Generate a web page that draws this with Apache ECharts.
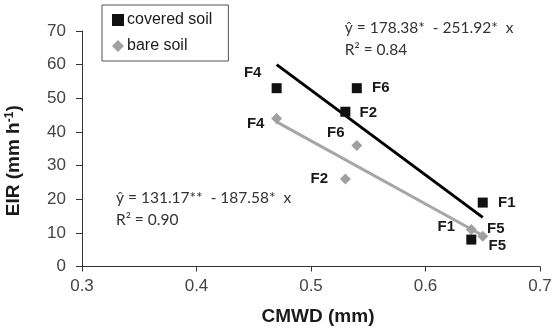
<!DOCTYPE html>
<html>
<head>
<meta charset="utf-8">
<script src="https://cdn.jsdelivr.net/npm/echarts@6/dist/echarts.min.js"></script>
<style>
  html, body { margin: 0; padding: 0; background: #fff; }
  #chart { width: 559px; height: 332px; }
</style>
</head>
<body>
<div id="chart"></div>
<script>
// axis ranges [min, max, step]
var xRange = [0.3, 0.7, 0.1];
var yRange = [0, 70, 10];

// plot names (same order in both series)
var plotNames = ['F1', 'F2', 'F4', 'F5', 'F6'];

// covered soil
var coveredCMWD = [0.65, 0.53, 0.47, 0.64, 0.54];
var coveredEIR = [19, 46, 53, 8, 53];

// bare soil
var bareCMWD = [0.64, 0.53, 0.47, 0.65, 0.54];
var bareEIR = [11, 26, 44, 9, 36];

// fitted lines, end points
var coveredFitX = [0.47, 0.65];
var coveredFitY = [60.0, 14.6];
var bareFitX = [0.47, 0.65];
var bareFitY = [43.0, 9.2];

// equation texts
var coveredEq = 'ŷ = 178.38*  - 251.92*  x\nR² = 0.84';
var bareEq = 'ŷ = 131.17**  - 187.58*  x\nR² = 0.90';

// label offsets (px) for each plot name
var coveredLabelOffset = { F1: [24, 0], F2: [23, 1], F4: [-24, -15], F5: [26, 6], F6: [24, 0] };
var bareLabelOffset = { F1: [-25, -3], F2: [-26, 0], F4: [-21, 5], F5: [13, -7], F6: [-21, -13] };

var labelFont = { fontFamily: 'Liberation Sans', fontWeight: 'bold', fontSize: 15, color: '#1a1a1a' };
var titleFont = { fontFamily: 'Liberation Sans', fontWeight: 'bold', fontSize: 19, color: '#1a1a1a' };

function pointsOf(xs, ys, offsets) {
    return xs.map(function (x, i) {
        var name = plotNames[i];
        return {
            value: [x, ys[i]],
            name: name,
            label: Object.assign({ show: true, position: 'inside', offset: offsets[name], formatter: name }, labelFont)
        };
    });
}

function lineOf(xs, ys) {
    return xs.map(function (x, i) { return [x, ys[i]]; });
}

var myChart = echarts.init(document.getElementById('chart'));

var option = {
    animation: false,
    backgroundColor: '#fff',
    grid: { left: 82, right: 19, top: 31, bottom: 65.5, containLabel: false, outerBoundsMode: 'none' },
    legend: {
        left: 102, top: 5,
        orient: 'vertical',
        data: [{ name: 'covered soil', icon: 'rect' }, { name: 'bare soil', icon: 'diamond' }],
        itemWidth: 12, itemHeight: 12, itemGap: 8,
        padding: [6, 16, 6, 10],
        borderColor: '#555', borderWidth: 1,
        backgroundColor: '#fff',
        textStyle: { fontFamily: 'Liberation Sans', fontSize: 16, color: '#1a1a1a', lineHeight: 18, padding: [0, 0, 0, -2] }
    },
    xAxis: {
        type: 'value',
        min: xRange[0], max: xRange[1], interval: xRange[2],
        name: 'CMWD (mm)', nameLocation: 'middle', nameGap: 41,
        nameTextStyle: Object.assign({ padding: [0, 0, 0, 14] }, titleFont),
        axisLine: { lineStyle: { color: '#333', width: 1 } },
        axisTick: { show: true, length: 5, lineStyle: { color: '#333' } },
        axisLabel: { margin: 11, fontFamily: 'Liberation Sans', fontSize: 17, color: '#444',
            formatter: function (v) { return v.toFixed(1); } },
        splitLine: { show: false }
    },
    yAxis: {
        type: 'value',
        min: yRange[0], max: yRange[1], interval: yRange[2],
        name: 'EIR (mm h{sup|-1})', nameLocation: 'middle', nameGap: 58,
        nameTextStyle: Object.assign({ padding: [0, 24, 0, 0],
            rich: { sup: { fontFamily: 'Liberation Sans', fontWeight: 'bold', fontSize: 12, color: '#1a1a1a', verticalAlign: 'top', padding: [0, 0, 8, 0] } } }, titleFont),
        axisLine: { show: true, lineStyle: { color: '#333', width: 1 } },
        axisTick: { show: true, length: 6, lineStyle: { color: '#333' } },
        axisLabel: { margin: 16, fontFamily: 'Liberation Sans', fontSize: 17, color: '#444' },
        splitLine: { show: false }
    },
    series: [
        {
            name: 'bare fit', type: 'line', silent: true, symbol: 'none',
            lineStyle: { color: '#a6a6a6', width: 3 },
            data: lineOf(bareFitX, bareFitY), z: 1
        },
        {
            name: 'covered fit', type: 'line', silent: true, symbol: 'none',
            lineStyle: { color: '#000', width: 3 },
            data: lineOf(coveredFitX, coveredFitY), z: 2
        },
        {
            name: 'bare soil', type: 'scatter', symbol: 'diamond', symbolSize: 11,
            itemStyle: { color: '#a0a0a0', opacity: 1 },
            data: pointsOf(bareCMWD, bareEIR, bareLabelOffset), z: 3
        },
        {
            name: 'covered soil', type: 'scatter', symbol: 'rect', symbolSize: 10,
            itemStyle: { color: '#111', opacity: 1 },
            data: pointsOf(coveredCMWD, coveredEIR, coveredLabelOffset), z: 4
        }
    ]
};

myChart.setOption(option);

// equations anchored at data coordinates (top-left corner of the text)
var eqAnchors = [
    { text: coveredEq, at: [0.5295, 74.3] },
    { text: bareEq, at: [0.3297, 23.6] }
];
myChart.setOption({
    graphic: eqAnchors.map(function (a) {
        var p = myChart.convertToPixel({ gridIndex: 0 }, a.at);
        return {
            type: 'text', x: p[0], y: p[1], z: 10,
            style: { text: a.text, font: '15.5px Lato', fill: '#333', lineHeight: 22, verticalAlign: 'top' }
        };
    })
});
</script>
</body>
</html>
